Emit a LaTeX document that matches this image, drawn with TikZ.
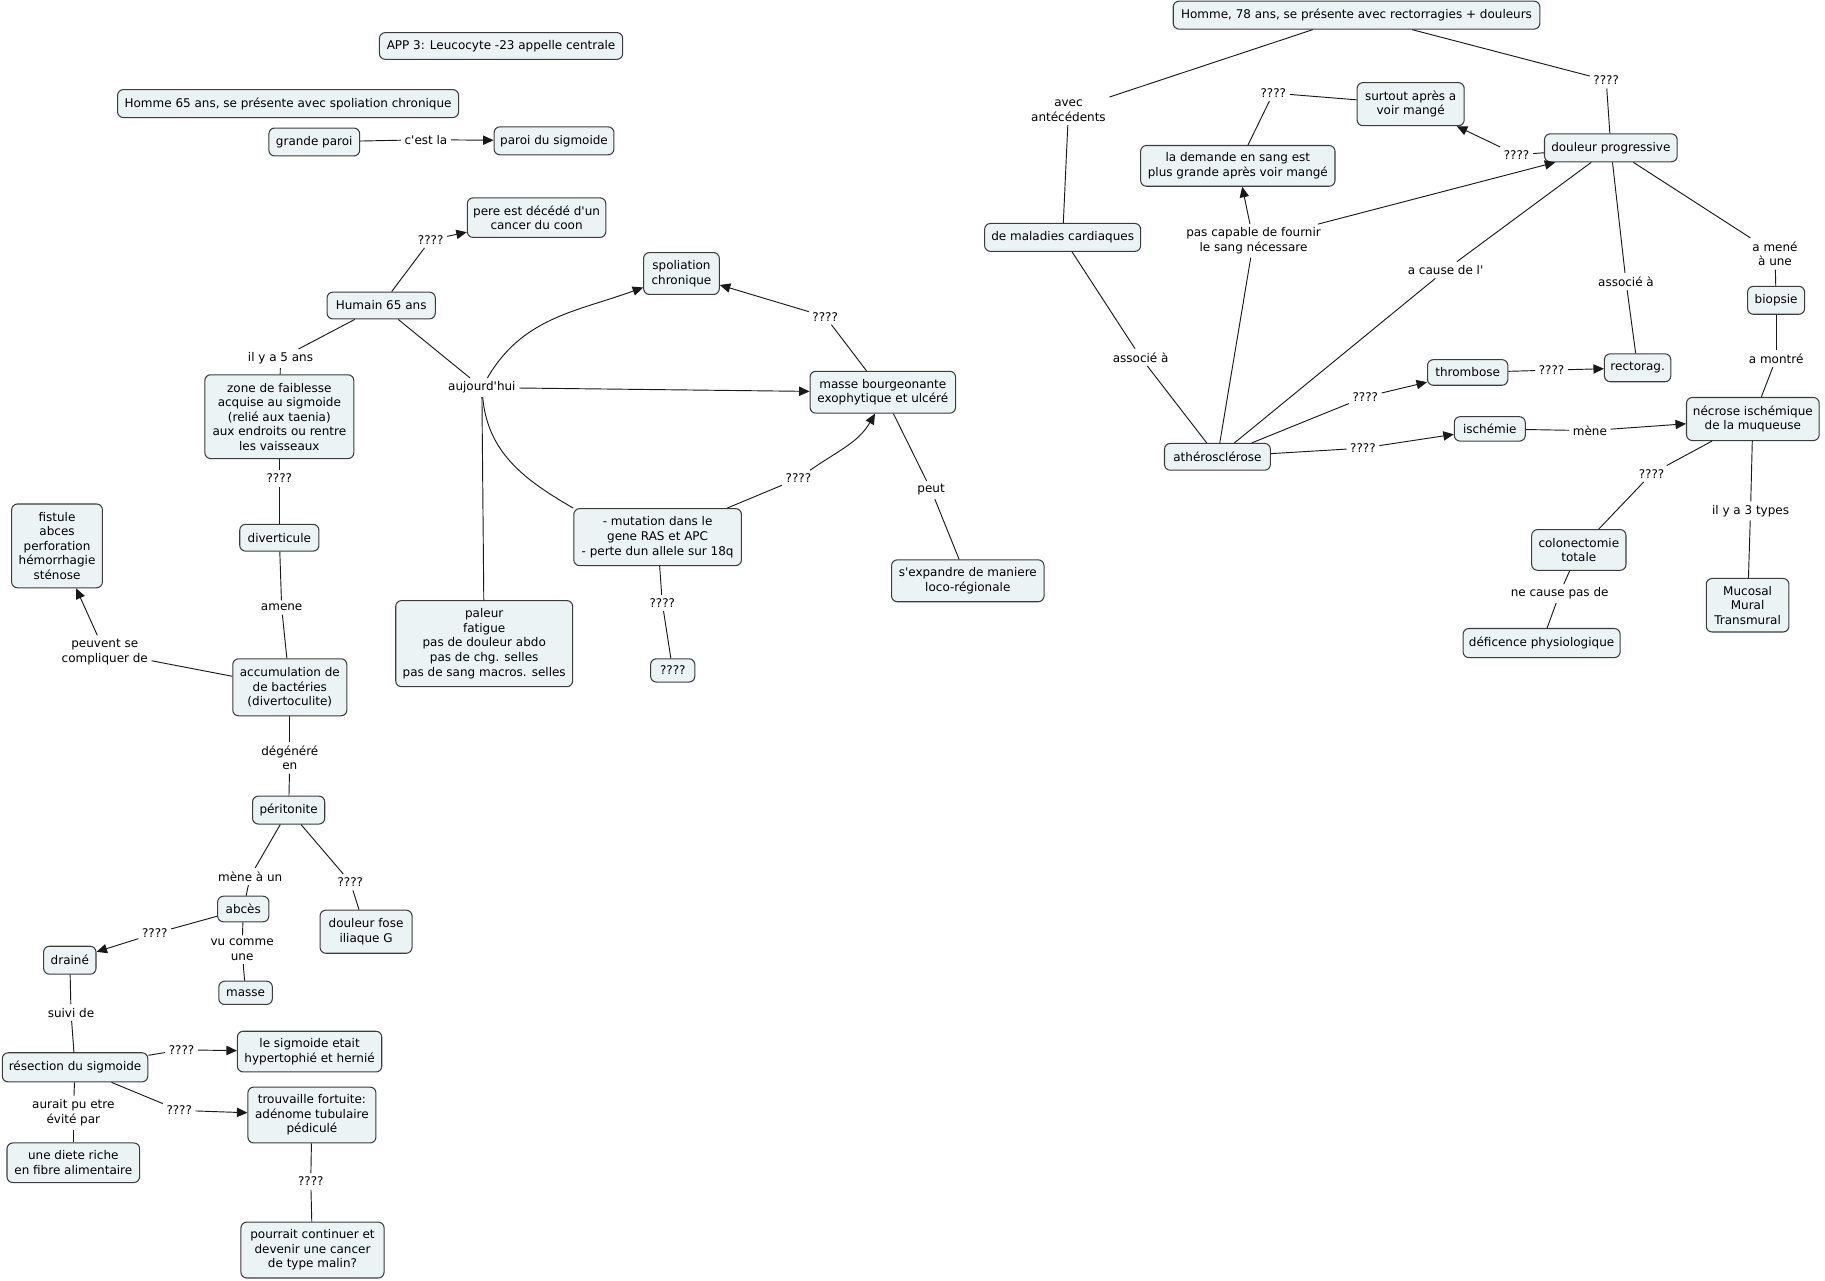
\documentclass[tikz,border=0pt]{standalone}
\usepackage{fontspec}
\setmainfont{DejaVu Sans}[Ligatures=TeXOff]
\usetikzlibrary{arrows.meta}
\definecolor{boxfill}{RGB}{236,243,245}
\definecolor{boxdraw}{RGB}{60,60,60}
\definecolor{linec}{RGB}{25,25,25}
\tikzset{
  txt/.style={font=\fontsize{10.3}{12.5}\selectfont, align=center, text=black},
  box/.style={txt, draw=boxdraw, fill=boxfill, rounded corners=5pt, line width=0.9pt, inner xsep=3pt, inner ysep=2pt},
  b/.style 2 args={box, minimum width=#1pt, minimum height=#2pt},
  lb/.style={txt, inner sep=3pt},
  ln/.style={draw=linec, line width=0.8pt},
  ar/.style={ln, -{Triangle[length=9pt,width=8pt]}},
}
\begin{document}
\begin{tikzpicture}[x=1pt,y=-1pt]
\useasboundingbox[fill=white] (0,0) rectangle (1568,1100);
% ---------- left part: boxes ----------
\node[b={209}{23}] (app) at (430.5,39.5) {APP 3: Leucocyte -23 appelle centrale};
\node[b={293}{24}] (h65) at (247.5,89) {Homme 65 ans, se présente avec spoliation chronique};
\node[b={78}{24}] (grande) at (270,122) {grande paroi};
\node[b={103}{24}] (paroi) at (476,121) {paroi du sigmoide};
\node[b={119}{34}] (pere) at (461,187) {pere est décédé d'un\\cancer du coon};
\node[b={93}{23}] (humain) at (327.5,262.5) {Humain 65 ans};
\node[b={128}{72}] (zone) at (240,358) {zone de faiblesse\\acquise au sigmoide\\(relié aux taenia)\\aux endroits ou rentre\\les vaisseaux};
\node[b={68}{23}] (divert) at (240,462) {diverticule};
\node[b={98}{49}] (accum) at (249,590.5) {accumulation de\\de bactéries\\(divertoculite)};
\node[b={78}{72}] (fistule) at (49,469) {fistule\\abces\\perforation\\hémorrhagie\\sténose};
\node[b={62}{24}] (perit) at (248,696) {péritonite};
\node[b={44}{22}] (abces) at (209,781) {abcès};
\node[b={79}{37}] (fose) at (314.5,800.5) {douleur fose\\iliaque G};
\node[b={45}{24}] (draine) at (60,825) {drainé};
\node[b={46}{20}] (masse) at (211,853) {masse};
\node[b={125}{25}] (resect) at (64.5,917) {résection du sigmoide};
\node[b={124}{35}] (sigetait) at (266,903.5) {le sigmoide etait\\hypertophié et hernié};
\node[b={110}{48}] (trouv) at (268,958) {trouvaille fortuite:\\adénome tubulaire\\pédiculé};
\node[b={114}{34}] (diete) at (63,999) {une diete riche\\en fibre alimentaire};
\node[b={123}{48}] (pourrait) at (268.5,1074) {pourrait continuer et\\devenir une cancer\\de type malin?};
% ---------- middle: boxes ----------
\node[b={65}{36}] (spol) at (585.5,235) {spoliation\\chronique};
\node[b={125}{36}] (masseb) at (758.5,337) {masse bourgeonante\\exophytique et ulcéré};
\node[b={144}{49}] (mut) at (565,461.5) {- mutation dans le\\gene RAS et APC\\- perte dun allele sur 18q};
\node[b={38}{20}] (qbox) at (578,576) {????};
\node[b={152}{74}] (paleur) at (416,553) {paleur\\fatigue\\pas de douleur abdo\\pas de chg. selles\\pas de sang macros. selles};
\node[b={131}{36}] (sexp) at (831.5,499) {s'expandre de maniere\\loco-régionale};
% ---------- right: boxes ----------
\node[b={315}{24}] (h78) at (1165.5,13) {Homme, 78 ans, se présente avec rectorragies + douleurs};
\node[b={134}{24}] (malad) at (913,204) {de maladies cardiaques};
\node[b={114}{24}] (dprog) at (1384,127) {douleur progressive};
\node[b={92}{37}] (surtout) at (1212,89.5) {surtout après a\\voir mangé};
\node[b={167}{35}] (demande) at (1063.5,142.5) {la demande en sang est\\plus grande après voir mangé};
\node[b={49}{24}] (biopsie) at (1526,258) {biopsie};
\node[b={114}{37}] (necrose) at (1506,360) {nécrose ischémique\\de la muqueuse};
\node[b={57}{24}] (rectorag) at (1407,316) {rectorag.};
\node[b={69}{22}] (thromb) at (1261,320) {thrombose};
\node[b={91}{23}] (athero) at (1046,392.5) {athérosclérose};
\node[b={61}{21}] (isch) at (1280,368.5) {ischémie};
\node[b={81}{35}] (colon) at (1356.5,472.5) {colonectomie\\totale};
\node[b={71}{46}] (mucosal) at (1501.5,520) {Mucosal\\Mural\\Transmural};
\node[b={135}{25}] (defic) at (1324.5,552.5) {déficence physiologique};
% ---------- labels ----------
\node[lb] (cest) at (366,120) {c'est la};
\node[lb] (q1) at (370,206) {????};
\node[lb] (il5) at (241,308) {il y a 5 ans};
\node[lb] (q2) at (240,411) {????};
\node[lb] (amene) at (242,522) {amene};
\node[lb] (peuvent) at (90,560) {peuvent se\\compliquer de};
\node[lb] (degen) at (249,651) {dégénéré\\en};
\node[lb] (mene1) at (215,753) {mène à un};
\node[lb] (q3) at (301,758) {????};
\node[lb] (q4) at (133,802) {????};
\node[lb] (vu) at (208,816) {vu comme\\une};
\node[lb] (suivi) at (61,870) {suivi de};
\node[lb] (q5) at (156,902) {????};
\node[lb] (q6) at (154,954) {????};
\node[lb] (aurait) at (63,956) {aurait pu etre\\évité par};
\node[lb] (q7) at (267,1015) {????};
\node[lb] (auj) at (414,333) {aujourd'hui};
\node[lb] (q8) at (709,272) {????};
\node[lb] (q9) at (686,411) {????};
\node[lb] (q10) at (569,518) {????};
\node[lb] (peut) at (800,421) {peut};
\node[lb] (avec) at (918,95) {avec\\antécédents};
\node[lb] (q11) at (1380,69) {????};
\node[lb] (q12) at (1094,80) {????};
\node[lb] (q13) at (1303,133) {????};
\node[lb] (pasc) at (1077,207) {pas capable de fournir\\le sang nécessare};
\node[lb] (acause) at (1242,232) {a cause de l'};
\node[lb] (assoc1) at (1397,242) {associé à};
\node[lb] (amene2) at (1525,218) {a mené\\à une};
\node[lb] (amontre) at (1526,308) {a montré};
\node[lb] (assoc2) at (980,307) {associé à};
\node[lb] (q14) at (1173,341) {????};
\node[lb] (q15) at (1333,318) {????};
\node[lb] (q16) at (1171,385) {????};
\node[lb] (mene2) at (1366,370) {mène};
\node[lb] (q17) at (1419,407) {????};
\node[lb] (il3) at (1504,439) {il y a 3 types};
\node[lb] (necause) at (1340,510) {ne cause pas de};
% ---------- connectors: left ----------
\draw[ln] (grande) -- (cest); \draw[ar] (cest) -- (paroi);
\draw[ln] (humain) -- (q1); \draw[ar] (q1) -- (pere);
\draw[ln] (humain) -- (il5); \draw[ln] (il5) -- (zone);
\draw[ln] (zone) -- (q2); \draw[ln] (q2) -- (divert);
\draw[ln] (divert) -- (amene); \draw[ln] (amene) -- (accum);
\draw[ln] (accum) -- (peuvent); \draw[ar] (peuvent) -- (fistule);
\draw[ln] (accum) -- (degen); \draw[ln] (degen) -- (perit);
\draw[ln] (perit) -- (mene1); \draw[ln] (mene1) -- (abces);
\draw[ln] (perit) -- (q3); \draw[ln] (q3) -- (fose);
\draw[ln] (abces) -- (q4); \draw[ar] (q4) -- (draine);
\draw[ln] (abces) -- (vu); \draw[ln] (vu) -- (masse);
\draw[ln] (draine) -- (suivi); \draw[ln] (suivi) -- (resect);
\draw[ln] (resect) -- (q5); \draw[ar] (q5) -- (sigetait);
\draw[ln] (resect) -- (q6); \draw[ar] (q6) -- (trouv);
\draw[ln] (resect) -- (aurait); \draw[ln] (aurait) -- (diete);
\draw[ln] (trouv) -- (q7); \draw[ln] (q7) -- (pourrait);
% ---------- connectors: middle ----------
\draw[ln] (humain) -- (auj);
\draw[ar] (auj) to[out=60,in=200] (spol);
\draw[ar] (auj) -- (masseb);
\draw[ln] (auj) -- (paleur);
\draw[ln] (auj) to[out=-85,in=150] (mut.north west);
\draw[ln] (masseb) -- (q8); \draw[ar] (q8) -- (spol);
\draw[ln] (mut) -- (q9); \draw[ar] (q9) to[out=35,in=-120] (masseb.250);
\draw[ln] (mut) -- (q10); \draw[ln] (q10) -- (qbox);
\draw[ln] (masseb) -- (peut); \draw[ln] (peut) -- (sexp);
% ---------- connectors: right ----------
\draw[ln] (h78) -- (avec); \draw[ln] (avec) -- (malad);
\draw[ln] (h78) -- (q11); \draw[ln] (q11) -- (dprog);
\draw[ln] (surtout) -- (q12); \draw[ln] (q12) -- (demande);
\draw[ln] (dprog) -- (q13); \draw[ar] (q13) -- (surtout);
\draw[ar] (pasc) -- (demande); \draw[ar] (pasc) -- (dprog);
\draw[ln] (athero) -- (pasc);
\draw[ln] (dprog) -- (acause); \draw[ln] (acause) -- (athero);
\draw[ln] (dprog) -- (assoc1); \draw[ln] (assoc1) -- (rectorag);
\draw[ln] (dprog) -- (amene2); \draw[ln] (amene2) -- (biopsie);
\draw[ln] (biopsie) -- (amontre); \draw[ln] (amontre) -- (necrose);
\draw[ln] (malad) -- (assoc2); \draw[ln] (assoc2) -- (athero);
\draw[ln] (athero) -- (q14); \draw[ar] (q14) -- (thromb);
\draw[ln] (thromb) -- (q15); \draw[ar] (q15) -- (rectorag);
\draw[ln] (athero) -- (q16); \draw[ar] (q16) -- (isch);
\draw[ln] (isch) -- (mene2); \draw[ar] (mene2) -- (necrose);
\draw[ln] (necrose) -- (q17); \draw[ln] (q17) -- (colon);
\draw[ln] (necrose) -- (il3); \draw[ln] (il3) -- (mucosal);
\draw[ln] (colon) -- (necause); \draw[ln] (necause) -- (defic);
\end{tikzpicture}
\end{document}
